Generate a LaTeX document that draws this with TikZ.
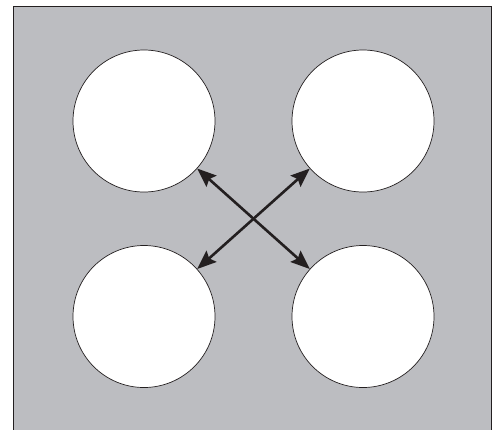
\documentclass[tikz,border=0pt]{standalone}
\usetikzlibrary{arrows.meta}
\definecolor{bggray}{HTML}{BCBDC1}
\definecolor{ink}{HTML}{231F20}
\begin{document}
\begin{tikzpicture}[x=1pt,y=-1pt,
  hole/.style={circle,draw=ink,line width=0.7pt,fill=white,minimum size=142pt,inner sep=0pt},
  link/.style={draw=ink,line width=2.6pt,{Stealth[length=19pt,width=15pt,inset=3pt]}-{Stealth[length=19pt,width=15pt,inset=3pt]}}]
\useasboundingbox (0,0) rectangle (497,429);
\path[fill=bggray,draw=ink,line width=1pt] (13.5,6.5) rectangle (491.5,432);
\node[hole] (tl) at (144,121) {};
\node[hole] (tr) at (363,121) {};
\node[hole] (bl) at (144,316.5) {};
\node[hole] (br) at (363,316.5) {};
\draw[link] (tl) -- (br);
\draw[link] (tr) -- (bl);
\end{tikzpicture}
\end{document}
